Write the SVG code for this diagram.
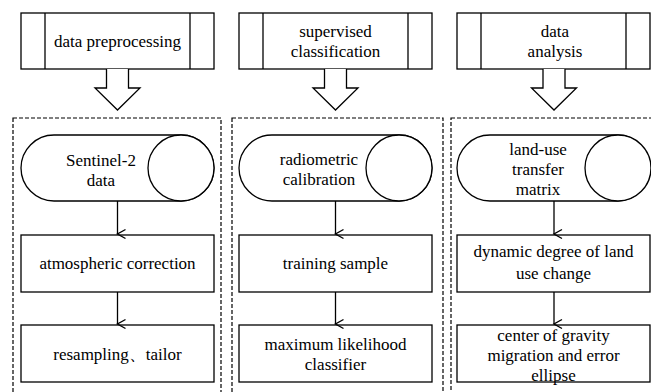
<svg xmlns="http://www.w3.org/2000/svg" width="651" height="392" viewBox="0 0 651 392">
<defs>
<style>
.b{fill:#fff;stroke:#000;stroke-width:1.3}
.d{fill:none;stroke:#000;stroke-width:1.2;stroke-dasharray:4 2}
.t{font-family:'Liberation Serif','Times New Roman',serif;font-size:17px;fill:#000;text-anchor:middle}
.c{fill:none;stroke:#000;stroke-width:1.3}
</style>
<marker id="ah" markerWidth="12" markerHeight="12" refX="6" refY="10" orient="auto" markerUnits="userSpaceOnUse" viewBox="0 0 12 12">
<path d="M1.5,2 L6,10 L10.5,2" fill="none" stroke="#000" stroke-width="1.4"/>
</marker>
</defs>
<rect width="651" height="392" fill="#fff"/>

<g id="groups">
<rect class="d" x="13" y="118" width="208" height="280"/>
<rect class="d" x="232" y="118" width="211" height="280"/>
<rect class="d" x="451" y="118" width="210" height="280"/>
</g>

<g id="h1">
<rect class="b" x="21" y="13" width="193" height="56"/>
<line class="c" x1="45" y1="13" x2="45" y2="69"/>
<line class="c" x1="190" y1="13" x2="190" y2="69"/>
<text class="t" x="117.5" y="47">data preprocessing</text>
</g>
<g id="h2">
<rect class="b" x="239" y="13" width="193" height="56"/>
<line class="c" x1="263" y1="13" x2="263" y2="69"/>
<line class="c" x1="408" y1="13" x2="408" y2="69"/>
<text class="t" x="335.5" y="37">supervised</text>
<text class="t" x="335.5" y="57">classification</text>
</g>
<g id="h3">
<rect class="b" x="457" y="13" width="193" height="56"/>
<line class="c" x1="481" y1="13" x2="481" y2="69"/>
<line class="c" x1="626" y1="13" x2="626" y2="69"/>
<text class="t" x="555" y="37">data</text>
<text class="t" x="555" y="57">analysis</text>
</g>

<g id="n1a">
<rect class="b" x="21" y="135" width="193" height="66" rx="33" ry="33"/>
<circle class="b" cx="181" cy="168" r="33"/>
<text class="t" x="101" y="166">Sentinel-2</text>
<text class="t" x="101" y="186">data</text>
</g>
<g id="n1b">
<rect class="b" x="21" y="235" width="193" height="57"/>
<text class="t" x="117.5" y="269">atmospheric correction</text>
</g>
<g id="n1c">
<rect class="b" x="21" y="325" width="193" height="57"/>
<text class="t" x="117.5" y="360">resampling、tailor</text>
</g>

<g id="n2a">
<rect class="b" x="239" y="135" width="193" height="66" rx="33" ry="33"/>
<circle class="b" cx="399" cy="168" r="33"/>
<text class="t" x="319" y="165">radiometric</text>
<text class="t" x="319" y="185">calibration</text>
</g>
<g id="n2b">
<rect class="b" x="239" y="235" width="193" height="57"/>
<text class="t" x="335.5" y="269">training sample</text>
</g>
<g id="n2c">
<rect class="b" x="239" y="325" width="193" height="57"/>
<text class="t" x="335.5" y="350">maximum likelihood</text>
<text class="t" x="335.5" y="370">classifier</text>
</g>

<g id="n3a">
<rect class="b" x="457" y="135" width="193" height="66" rx="33" ry="33"/>
<circle class="b" cx="618" cy="168" r="33"/>
<text class="t" x="538" y="155">land-use</text>
<text class="t" x="538" y="175">transfer</text>
<text class="t" x="538" y="195">matrix</text>
</g>
<g id="n3b">
<rect class="b" x="457" y="235" width="193" height="57"/>
<text class="t" x="553.5" y="257">dynamic degree of land</text>
<text class="t" x="553.5" y="279">use change</text>
</g>
<g id="n3c">
<rect class="b" x="457" y="325" width="193" height="57"/>
<text class="t" x="553.5" y="341">center of gravity</text>
<text class="t" x="553.5" y="361">migration and error</text>
<text class="t" x="553.5" y="381">ellipse</text>
</g>

<g id="connectors">
<path class="b" d="M106.5,69 V88 H95 L117.5,110 L140,88 H128.5 V69"/>
<path class="b" d="M324.5,69 V88 H313 L335.5,110 L358,88 H346.5 V69"/>
<path class="b" d="M543,69 V88 H531.5 L554,110 L576.5,88 H565 V69"/>
<line class="c" x1="117.5" y1="201" x2="117.5" y2="234" marker-end="url(#ah)"/>
<line class="c" x1="117.5" y1="292" x2="117.5" y2="324" marker-end="url(#ah)"/>
<line class="c" x1="335.5" y1="201" x2="335.5" y2="234" marker-end="url(#ah)"/>
<line class="c" x1="335.5" y1="292" x2="335.5" y2="324" marker-end="url(#ah)"/>
<line class="c" x1="554" y1="201" x2="554" y2="234" marker-end="url(#ah)"/>
<line class="c" x1="554" y1="292" x2="554" y2="324" marker-end="url(#ah)"/>
</g>
</svg>
